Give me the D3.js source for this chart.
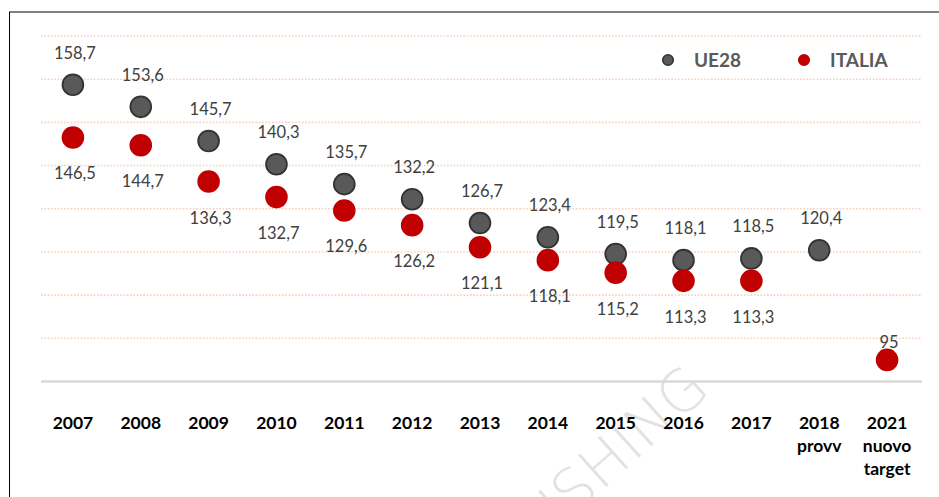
<!DOCTYPE html>
<html>
<head>
<meta charset="utf-8">
<script src="https://cdn.jsdelivr.net/npm/d3@7"></script>
<style>
  body { margin: 0; background: #fff; }
  svg { display: block; font-family: Lato, "Noto Sans", sans-serif; }
</style>
</head>
<body>
<svg id="canvas"></svg>
<script>
const WIDTH = 939;
const HEIGHT = 497;

// data
const categories = ["2007", "2008", "2009", "2010", "2011", "2012", "2013", "2014", "2015", "2016", "2017", "2018 provv", "2021 nuovo target"];
const ue28 = [158.7, 153.6, 145.7, 140.3, 135.7, 132.2, 126.7, 123.4, 119.5, 118.1, 118.5, 120.4, null];
const italia = [146.5, 144.7, 136.3, 132.7, 129.6, 126.2, 121.1, 118.1, 115.2, 113.3, 113.3, null, 95];
const gridValues = [100, 110, 120, 130, 140, 150, 160, 170];
const seriesNames = ["UE28", "ITALIA"];

const GREY = "#595959";
const RED = "#c00000";

const canvas = d3.select("#canvas").attr("width", WIDTH).attr("height", HEIGHT);

const xScale = d3.scaleBand().domain(categories).range([39, 921]);
const yScale = d3.scaleLinear().domain([90, 170]).range([381.5, 36]);

const fmt = (v) => (Number.isInteger(v) ? String(v) : v.toFixed(1).replace(".", ","));
const cx = (c) => xScale(c) + xScale.bandwidth() / 2;

// frame
canvas.append("line").attr("x1", 9).attr("x2", WIDTH).attr("y1", 12).attr("y2", 12)
  .attr("stroke", "#808080").attr("stroke-width", 2);
canvas.append("line").attr("x1", 9.5).attr("x2", 9.5).attr("y1", 12).attr("y2", HEIGHT)
  .attr("stroke", "#000").attr("stroke-width", 1);

// watermark (cut off by the bottom edge, as in the original)
canvas.append("text")
  .attr("transform", "translate(712,392) rotate(-42)")
  .attr("text-anchor", "end")
  .attr("font-size", 58)
  .attr("font-family", "'DejaVu Sans', sans-serif")
  .attr("font-weight", 200)
  .attr("fill", "#e2e2e2")
  .text("PUBLISHING");

// grid
canvas.append("g").selectAll("line").data(gridValues).enter().append("line")
  .attr("x1", 41).attr("x2", 922)
  .attr("y1", (d) => yScale(d)).attr("y2", (d) => yScale(d))
  .attr("stroke", "#f9d3bf").attr("stroke-width", 1.6)
  .attr("stroke-dasharray", "1.7,1.6");

// x axis
const xAxis = d3.axisBottom(xScale).tickSize(0).tickPadding(0);
const gx = canvas.append("g").attr("id", "x-axis")
  .attr("transform", "translate(0," + yScale(90) + ")")
  .call(xAxis);
gx.select(".domain").remove();
gx.append("line").attr("x1", 41).attr("x2", 922).attr("y1", 0).attr("y2", 0)
  .attr("stroke", "#d9d9d9").attr("stroke-width", 2.5);
gx.selectAll(".tick text").each(function (d) {
  const t = d3.select(this);
  const parts = d.split(" ");
  t.text(null)
    .attr("y", 47.5)
    .attr("dy", 0)
    .attr("fill", "#000")
    .attr("font-size", 17.5)
    .attr("font-weight", "bold")
    .attr("font-family", "Lato, sans-serif");
  parts.forEach((p, i) => {
    t.append("tspan").attr("x", 0).attr("dy", i === 0 ? 0 : 23).text(p);
  });
});

// dots
const drawSeries = (values, fill, stroke, labelDy) => {
  const rows = categories.map((c, i) => ({ c, v: values[i] })).filter((r) => r.v !== null);
  const g = canvas.append("g");
  g.selectAll("circle").data(rows).enter().append("circle")
    .attr("cx", (r) => cx(r.c))
    .attr("cy", (r) => yScale(r.v))
    .attr("r", 10.4)
    .attr("fill", fill)
    .attr("stroke", stroke)
    .attr("stroke-width", 1.8);
  g.selectAll("text").data(rows).enter().append("text")
    .attr("x", (r) => cx(r.c) + 2)
    .attr("y", (r) => yScale(r.v) + labelDy(r))
    .attr("text-anchor", "middle")
    .attr("font-size", 16.5)
    .attr("fill", "#404040")
    .text((r) => fmt(r.v));
};

drawSeries(ue28, GREY, "#333", () => -26);
drawSeries(italia, RED, RED, (r) => (r.c.startsWith("2021") ? -12 : 42));

// legend
const legend = canvas.append("g").selectAll("g").data(seriesNames).enter().append("g")
  .attr("transform", (d, i) => "translate(" + (668 + i * 136) + ",60)");
legend.append("circle").attr("r", 5.3)
  .attr("fill", (d, i) => (i === 0 ? GREY : RED))
  .attr("stroke", (d, i) => (i === 0 ? "#333" : RED))
  .attr("stroke-width", 1.5);
legend.append("text").attr("x", 26).attr("y", 7)
  .attr("font-size", 19).attr("font-weight", "bold")
  .attr("fill", GREY)
  .text((d) => d);
</script>
</body>
</html>
